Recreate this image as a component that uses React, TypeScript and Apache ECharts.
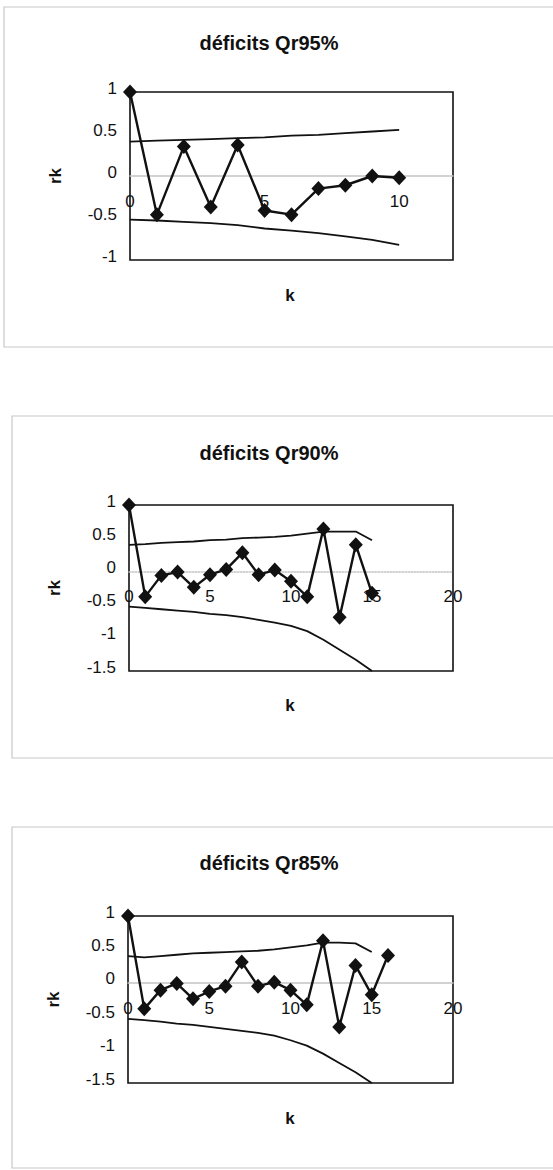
import React, { useEffect, useRef } from "react";
import * as echarts from "echarts";

// ---- data ----
const titles = ["déficits Qr95%", "déficits Qr90%", "déficits Qr85%"];

const k1 = [0, 1, 2, 3, 4, 5, 6, 7, 8, 9, 10];
const rk1 = [1.0, -0.46, 0.35, -0.37, 0.37, -0.41, -0.46, -0.15, -0.11, 0.0, -0.02];
const upper1 = [0.41, 0.42, 0.43, 0.44, 0.45, 0.46, 0.48, 0.49, 0.51, 0.53, 0.55];
const lower1 = [-0.52, -0.53, -0.545, -0.56, -0.585, -0.625, -0.65, -0.68, -0.72, -0.76, -0.82];

const k2 = [0, 1, 2, 3, 4, 5, 6, 7, 8, 9, 10, 11, 12, 13, 14, 15];
const rk2 = [1.0, -0.38, -0.06, -0.01, -0.24, -0.05, 0.03, 0.28, -0.05, 0.02, -0.15, -0.38, 0.64, -0.69, 0.4, -0.33];
const upper2 = [0.4, 0.41, 0.43, 0.44, 0.45, 0.47, 0.48, 0.5, 0.51, 0.52, 0.54, 0.57, 0.6, 0.6, 0.6, 0.47];
const lower2 = [-0.53, -0.55, -0.57, -0.59, -0.61, -0.64, -0.66, -0.69, -0.73, -0.77, -0.82, -0.9, -1.03, -1.18, -1.33, -1.5];

const k3 = [0, 1, 2, 3, 4, 5, 6, 7, 8, 9, 10, 11, 12, 13, 14, 15, 16];
const rk3 = [1.0, -0.39, -0.11, -0.01, -0.24, -0.13, -0.05, 0.31, -0.05, 0.01, -0.11, -0.33, 0.63, -0.66, 0.26, -0.18, 0.41];
const upper3 = [0.4, 0.38, 0.4, 0.42, 0.44, 0.45, 0.46, 0.47, 0.48, 0.5, 0.53, 0.56, 0.6, 0.6, 0.59, 0.46];
const lower3 = [-0.54, -0.56, -0.58, -0.61, -0.63, -0.66, -0.69, -0.72, -0.75, -0.79, -0.86, -0.94, -1.06, -1.2, -1.34, -1.5];

const xMax = [12, 20, 20];
const yMin = [-1, -1.5, -1.5];
const yMax = [1, 1, 1];

const FONT = "'Liberation Sans', Arial, sans-serif";

export default function App() {
  const ref = useRef<HTMLDivElement>(null);
  useEffect(() => {
    if (!ref.current) return;
    const chart = echarts.init(ref.current, undefined, { renderer: "svg" });

    const grids = [
      { left: 130, top: 92, width: 323, height: 168 },
      { left: 129, top: 505, width: 324, height: 166 },
      { left: 128, top: 916, width: 325, height: 167 },
    ];
    const frames = [
      { x: 4, y: 7, h: 340 },
      { x: 12, y: 416, h: 342 },
      { x: 12, y: 827, h: 341 },
    ];
    const titleY = [43, 453, 863];
    const kY = [295, 705, 1118];

    const datasets = [
      { k: k1, rk: rk1, up: upper1, lo: lower1 },
      { k: k2, rk: rk2, up: upper2, lo: lower2 },
      { k: k3, rk: rk3, up: upper3, lo: lower3 },
    ];

    const pair = (xs: number[], ys: number[]) => ys.map((y, i) => [xs[i], y]);

    const series: any[] = [];
    datasets.forEach((d, i) => {
      series.push({
        type: "line",
        xAxisIndex: i,
        yAxisIndex: i,
        data: pair(d.k, d.up),
        showSymbol: false,
        symbol: "none",
        lineStyle: { color: "#111", width: 1.8 },
        clip: false,
        z: 3,
      });
      series.push({
        type: "line",
        xAxisIndex: i,
        yAxisIndex: i,
        data: pair(d.k, d.lo),
        showSymbol: false,
        symbol: "none",
        lineStyle: { color: "#111", width: 1.8 },
        clip: false,
        z: 3,
      });
      series.push({
        type: "line",
        xAxisIndex: i,
        yAxisIndex: i,
        data: pair(d.k, d.rk),
        symbol: "diamond",
        symbolSize: [14, 15],
        itemStyle: { color: "#111" },
        lineStyle: { color: "#111", width: 2.4 },
        clip: false,
        z: 4,
      });
    });

    const graphic: any[] = [];
    frames.forEach((f, i) => {
      graphic.push({
        type: "rect",
        shape: { x: f.x, y: f.y, width: 600, height: f.h },
        style: { fill: "none", stroke: "#c8c8c8", lineWidth: 1.2 },
        silent: true,
      });
      graphic.push({
        type: "text",
        x: 269,
        y: titleY[i],
        style: {
          text: titles[i],
          font: `bold 20px ${FONT}`,
          fill: "#111",
          textAlign: "center",
          textVerticalAlign: "middle",
        },
      });
      graphic.push({
        type: "text",
        x: 290,
        y: kY[i],
        style: {
          text: "k",
          font: `bold 17px ${FONT}`,
          fill: "#111",
          textAlign: "center",
          textVerticalAlign: "middle",
        },
      });
    });

    // x axis sits at y = 0: offset from the grid bottom (negative moves it inward)
    const zeroOffset = grids.map((g, i) => -(g.height * (0 - yMin[i])) / (yMax[i] - yMin[i]));

    chart.setOption({
      animation: false,
      backgroundColor: "#fff",
      grid: grids.map((g) => ({
        ...g,
        show: true,
        borderColor: "#111",
        borderWidth: 1.6,
        backgroundColor: "transparent",
        containLabel: false,
      })),
      xAxis: grids.map((_, i) => ({
        type: "value",
        gridIndex: i,
        position: "bottom",
        offset: zeroOffset[i],
        min: 0,
        max: xMax[i],
        interval: 5,
        axisLine: {
          show: true,
          onZero: false,
          lineStyle: { color: "#c4c4c4", width: 1.5, type: i === 1 ? "dotted" : "solid" },
        },
        axisTick: { show: false },
        splitLine: { show: false },
        axisLabel: {
          margin: 17,
          color: "#111",
          fontSize: 17,
          fontFamily: FONT,
          formatter: (v: number) => (v % 5 === 0 ? String(v) : ""),
        },
      })),
      yAxis: grids.map((_, i) => ({
        type: "value",
        gridIndex: i,
        min: yMin[i],
        max: yMax[i],
        interval: 0.5,
        axisLine: { show: false },
        axisTick: { show: false },
        splitLine: { show: false },
        axisLabel: {
          margin: 13,
          color: "#111",
          fontSize: 17,
          fontFamily: FONT,
          verticalAlign: "bottom",
          lineHeight: 8,
        },
        name: "rk",
        nameLocation: "middle",
        nameRotate: 90,
        nameGap: 66,
        nameTextStyle: { fontWeight: "bold", fontSize: 17, fontFamily: FONT, color: "#111" },
      })),
      series,
      graphic,
    });

    return () => chart.dispose();
  }, []);

  return (
    <div
      ref={ref}
      style={{ position: "absolute", left: 0, top: 0, width: 553, height: 1170 }}
    />
  );
}
